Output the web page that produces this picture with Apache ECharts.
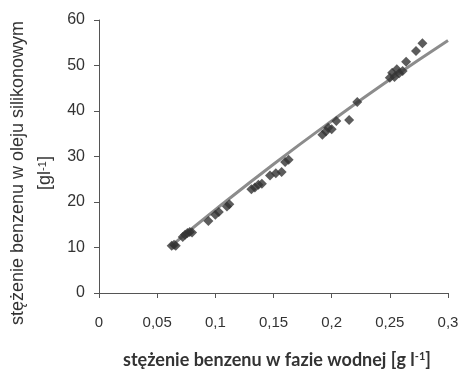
<!DOCTYPE html>
<html><head><meta charset="utf-8">
<script src="https://cdn.jsdelivr.net/npm/echarts@6/dist/echarts.min.js"></script>
<style>html,body{margin:0;padding:0;background:#fff}#c{width:463px;height:377px}</style>
</head><body><div id="c"></div>
<script>
const xTicks = ['0','0,05','0,1','0,15','0,2','0,25','0,3'];
const waterConc = [0.0625,0.0645,0.066,0.072,0.074,0.076,0.078,0.080,0.094,0.100,0.103,0.110,0.112,0.131,0.134,0.137,0.140,0.147,0.152,0.157,0.160,0.163,0.192,0.195,0.197,0.200,0.204,0.215,0.222,0.250,0.252,0.254,0.256,0.258,0.261,0.264,0.2725,0.278];
const oilConc = [10.4,10.6,10.4,12.3,12.8,13.2,13.4,13.3,15.8,17.2,17.8,19.0,19.5,22.8,23.2,23.8,24.0,25.8,26.3,26.6,28.8,29.3,34.8,35.5,36.3,36.0,37.8,38.0,42.0,47.3,48.4,47.5,49.2,48.3,48.8,50.8,53.2,54.9];
const fitX = [0.066,0.1,0.15,0.2,0.25,0.3];
const fitY = [11.2,18.3,28.3,37.8,46.9,55.5];

const chart = echarts.init(document.getElementById('c'));
chart.setOption({
  animation:false,
  grid:{left:99,right:15,top:20,bottom:84},
  xAxis:{type:'value',min:0,max:0.3,interval:0.05,
    axisLine:{lineStyle:{color:'#555',width:1}},
    axisTick:{show:true,length:5,lineStyle:{color:'#555'}},
    splitLine:{show:false},
    axisLabel:{margin:22,color:'#333',fontFamily:'Liberation Sans',fontSize:15,
      formatter:(v)=>{const i=Math.round(v/0.05);return xTicks[i]||'';}}
  },
  yAxis:{type:'value',min:0,max:60,interval:10,
    axisLine:{show:true,lineStyle:{color:'#555',width:1}},
    axisTick:{show:true,length:5,lineStyle:{color:'#555'}},
    splitLine:{show:false},
    axisLabel:{margin:14,color:'#333',fontFamily:'Liberation Sans',fontSize:16}
  },
  graphic:[
    {type:'text',x:32,y:173,rotation:Math.PI/2,
     style:{text:'{a|stężenie benzenu w oleju silikonowym}\n{a|[gl}{s|-1}{a|]}',
       align:'center',verticalAlign:'middle',textAlign:'center',textVerticalAlign:'middle',
       rich:{a:{fontFamily:'Liberation Sans',fontSize:18,fill:'#333',lineHeight:27,align:'center'},
             s:{fontFamily:'Liberation Sans',fontSize:11,fill:'#333',lineHeight:27,verticalAlign:'top',padding:[5,0,0,0]}},
       fill:'#333'}},
    {type:'text',x:277,y:360,
     style:{text:'{a|stężenie benzenu w fazie wodnej [g l}{s|-1}{a|]}',
       align:'center',verticalAlign:'middle',textAlign:'center',textVerticalAlign:'middle',
       rich:{a:{fontFamily:'Lato',fontWeight:'bold',fontSize:18,fill:'#333',lineHeight:22},
             s:{fontFamily:'Lato',fontWeight:'bold',fontSize:11,fill:'#333',lineHeight:22,verticalAlign:'top',padding:[2,0,0,0]}},
       fill:'#333'}}
  ],
  series:[
    {type:'line',data:fitX.map((x,i)=>[x,fitY[i]]),smooth:true,showSymbol:false,symbol:'none',
     lineStyle:{color:'#8c8c8c',width:3},z:1},
    {type:'scatter',data:waterConc.map((x,i)=>[x,oilConc[i]]),symbol:'diamond',symbolSize:10,
     itemStyle:{color:'#333'},z:2}
  ]
});
</script></body></html>
